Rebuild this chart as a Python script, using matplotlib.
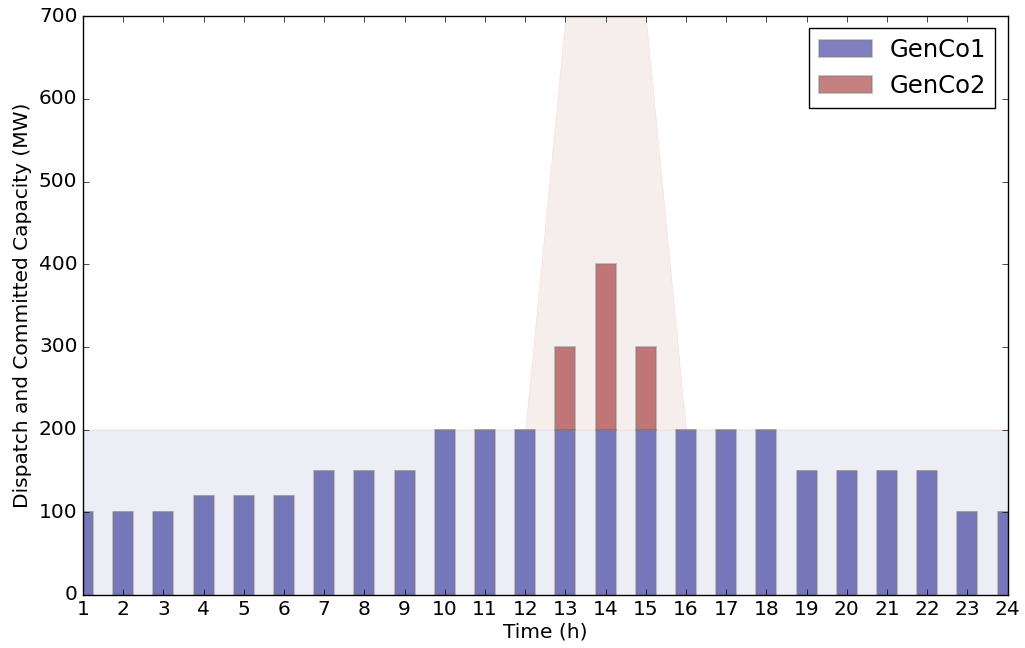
import numpy as np
import matplotlib
matplotlib.use("Agg")
import matplotlib.pyplot as plt

plt.style.use("classic")
plt.rcParams["font.size"] = 14.5

# hourly dispatch (MW)
hours = np.arange(1, 25)
genco1 = [100, 100, 100, 120, 120, 120, 150, 150, 150, 200, 200, 200,
          200, 200, 200, 200, 200, 200, 150, 150, 150, 150, 100, 100]
genco2 = [0, 0, 0, 0, 0, 0, 0, 0, 0, 0, 0, 0,
          100, 200, 100, 0, 0, 0, 0, 0, 0, 0, 0, 0]

# committed capacity (MW)
cap1 = [200] * 24
cap2 = [0, 0, 0, 0, 0, 0, 0, 0, 0, 0, 0, 0,
        500, 500, 500, 0, 0, 0, 0, 0, 0, 0, 0, 0]

fig = plt.figure(figsize=(10.25, 6.48), dpi=100, facecolor="white")
ax = fig.add_axes([0.081, 0.082, 0.902, 0.893])

cap1 = np.array(cap1)
cap2 = np.array(cap2)
ax.fill_between(hours, 0, cap1, facecolor="navy", alpha=0.07,
                edgecolor="#806060", linewidth=0.6)
ax.fill_between(hours, cap1, cap1 + cap2, facecolor="darkred", alpha=0.07,
                edgecolor="red", linewidth=0.6)

ax.bar(hours, genco1, width=0.5, align="center", color="navy", alpha=0.5,
       edgecolor="gray", linewidth=1.3, label="GenCo1")
ax.bar(hours, genco2, width=0.5, align="center", bottom=genco1,
       color="darkred", alpha=0.5, edgecolor="gray", linewidth=1.3,
       label="GenCo2")

ax.set_xlim(1, 24)
ax.set_ylim(0, 700)
ax.set_xticks(hours)
ax.set_xlabel("Time (h)", labelpad=2)
ax.set_ylabel("Dispatch and Committed Capacity (MW)")
ax.legend(loc="upper right", fontsize=17.5, handlelength=2.2,
          handletextpad=0.7)

fig.savefig("out.png", dpi=100, facecolor="white")
